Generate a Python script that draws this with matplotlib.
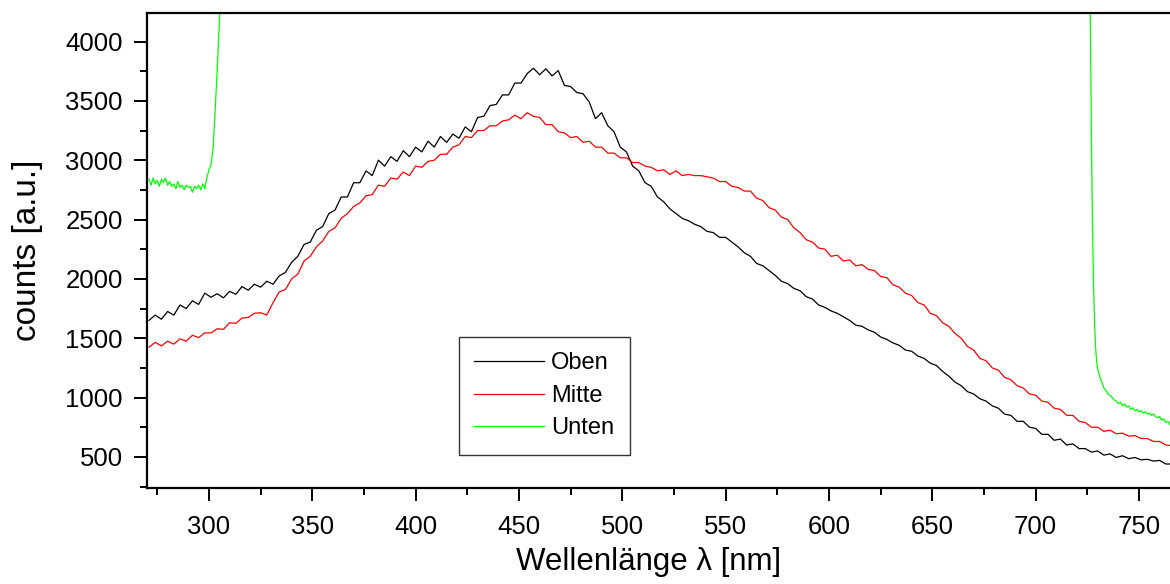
import numpy as np
import matplotlib
matplotlib.use("Agg")
import matplotlib.pyplot as plt
from matplotlib.ticker import MultipleLocator

plt.rcParams['font.family'] = ['Liberation Sans', 'DejaVu Sans']

# spectrometer grid (nm) for Oben / Mitte
wavelength = np.arange(271, 767, 3)

oben = [1650, 1695, 1660, 1725, 1695, 1780, 1750, 1815, 1785, 1880, 1845, 1875, 1840, 1895, 1870, 1935,
        1905, 1955, 1930, 1980, 1955, 2025, 2055, 2140, 2190, 2290, 2310, 2410, 2440, 2550, 2580, 2690,
        2690, 2810, 2810, 2910, 2870, 3000, 2950, 3030, 2990, 3080, 3030, 3110, 3070, 3160, 3110, 3200,
        3150, 3220, 3185, 3280, 3240, 3360, 3370, 3460, 3470, 3550, 3550, 3650, 3650, 3730, 3775, 3720,
        3770, 3710, 3755, 3630, 3620, 3570, 3560, 3490, 3350, 3400, 3290, 3240, 3110, 3070, 2950, 2910,
        2810, 2780, 2690, 2650, 2590, 2550, 2510, 2490, 2460, 2440, 2400, 2390, 2350, 2350, 2310, 2270,
        2220, 2190, 2130, 2110, 2070, 2030, 1980, 1960, 1920, 1900, 1850, 1830, 1780, 1760, 1730, 1710,
        1680, 1650, 1610, 1600, 1570, 1550, 1510, 1490, 1460, 1440, 1400, 1390, 1350, 1330, 1290, 1270,
        1220, 1180, 1130, 1100, 1050, 1030, 990, 970, 930, 910, 860, 850, 800, 800, 750, 740,
        690, 690, 640, 650, 600, 610, 570, 570, 540, 550, 515, 525, 495, 510, 485, 495,
        475, 480, 465, 470, 440, 440]

mitte = [1425, 1465, 1435, 1475, 1450, 1495, 1475, 1525, 1505, 1545, 1545, 1580, 1575, 1630, 1625, 1670,
         1675, 1710, 1715, 1695, 1800, 1890, 1910, 2000, 2040, 2150, 2190, 2270, 2320, 2400, 2430, 2510,
         2550, 2610, 2640, 2700, 2710, 2790, 2780, 2850, 2840, 2900, 2870, 2950, 2940, 2990, 3000, 3050,
         3050, 3110, 3130, 3200, 3190, 3250, 3250, 3290, 3290, 3330, 3340, 3380, 3350, 3400, 3370, 3360,
         3300, 3300, 3240, 3230, 3190, 3200, 3150, 3160, 3110, 3110, 3060, 3060, 3020, 3020, 2980, 2980,
         2950, 2940, 2910, 2920, 2880, 2910, 2870, 2880, 2870, 2870, 2860, 2850, 2820, 2820, 2780, 2770,
         2740, 2740, 2680, 2660, 2600, 2580, 2520, 2500, 2430, 2390, 2330, 2310, 2260, 2250, 2190, 2200,
         2150, 2160, 2110, 2120, 2080, 2070, 2020, 2010, 1950, 1930, 1880, 1860, 1800, 1780, 1710, 1690,
         1630, 1600, 1540, 1500, 1430, 1400, 1330, 1310, 1250, 1230, 1170, 1150, 1100, 1080, 1030, 1020,
         970, 960, 910, 900, 850, 850, 800, 790, 750, 750, 715, 725, 695, 700, 675, 680,
         655, 655, 630, 630, 600, 595]

# Unten: saturated in the middle, only the two edges are on scale
unten_left_nm = [271, 272, 273, 274, 275, 276, 277, 278, 279, 280, 281, 282, 283, 284, 285, 286, 287, 288,
                 289, 290, 291, 292, 293, 294, 295, 296, 297, 298, 299, 300, 301, 302, 303, 304, 305, 306]
unten_left = [2840, 2790, 2850, 2800, 2830, 2780, 2840, 2810, 2850, 2790, 2820, 2780, 2800, 2760, 2820, 2770,
              2790, 2750, 2790, 2770, 2780, 2730, 2780, 2760, 2790, 2750, 2800, 2760, 2850, 2920, 2960, 3100,
              3420, 3760, 4140, 4650]

unten_right_nm = [725, 726, 726.5, 727, 727.5, 728, 728.5, 729, 729.5, 730, 731, 732, 733, 734, 735, 736,
                  737, 738, 739, 740, 741, 742, 743, 744, 745, 746, 747, 748, 749, 750, 751, 752, 753, 754,
                  755, 756, 757, 758, 759, 760, 761, 762, 763, 764, 765, 766]
unten_right = [5600, 5000, 4100, 3150, 2450, 1950, 1620, 1420, 1310, 1240, 1180, 1130, 1080, 1060, 1030, 1020,
               1000, 980, 970, 950, 960, 930, 945, 920, 930, 900, 915, 890, 900, 880, 890, 870, 880, 860,
               870, 850, 860, 840, 830, 840, 810, 820, 790, 800, 770, 780]

fig = plt.figure(figsize=(11.7, 5.84), dpi=100)
ax = fig.add_axes([0.1256, 0.1644, 0.8744, 0.8133])

lw = 0.9
ax.plot(wavelength, oben, color='black', lw=lw, label='Oben')
ax.plot(wavelength, mitte, color='#ff0000', lw=lw, label='Mitte')
ax.plot(unten_left_nm, unten_left, color='#00ff00', lw=lw, label='Unten')
ax.plot(unten_right_nm, unten_right, color='#00ff00', lw=lw)

ax.set_xlim(270, 765)
ax.set_ylim(238, 4240)

ax.xaxis.set_major_locator(MultipleLocator(50))
ax.xaxis.set_minor_locator(MultipleLocator(25))
ax.yaxis.set_major_locator(MultipleLocator(500))
ax.yaxis.set_minor_locator(MultipleLocator(250))
ax.set_yticks(np.arange(500, 4001, 500))

ax.tick_params(which='major', direction='out', length=9.5, width=1.4, labelsize=18.5, pad=8)
ax.tick_params(axis='x', which='major', pad=10)
ax.tick_params(which='minor', direction='out', length=5, width=1.4)
ax.tick_params(top=False, right=False, which='both')

for side in ('left', 'bottom', 'top'):
    ax.spines[side].set_linewidth(1.6)
ax.spines['right'].set_visible(False)

ax.set_xlabel('Wellenlänge λ [nm]', fontsize=22.5, labelpad=10)
ax.xaxis.set_label_coords(0.49, -0.125)
ax.set_ylabel('counts [a.u.]', fontsize=24, labelpad=16)

leg = ax.legend(loc='lower left', bbox_to_anchor=(0.305, 0.07), borderaxespad=0,
                fontsize=17, frameon=True, fancybox=False, handlelength=2.95,
                handletextpad=0.3, labelspacing=0.45, borderpad=0.65)
leg.get_frame().set_edgecolor('black')
leg.get_frame().set_linewidth(1.0)

fig.savefig('out.png', dpi=100)
